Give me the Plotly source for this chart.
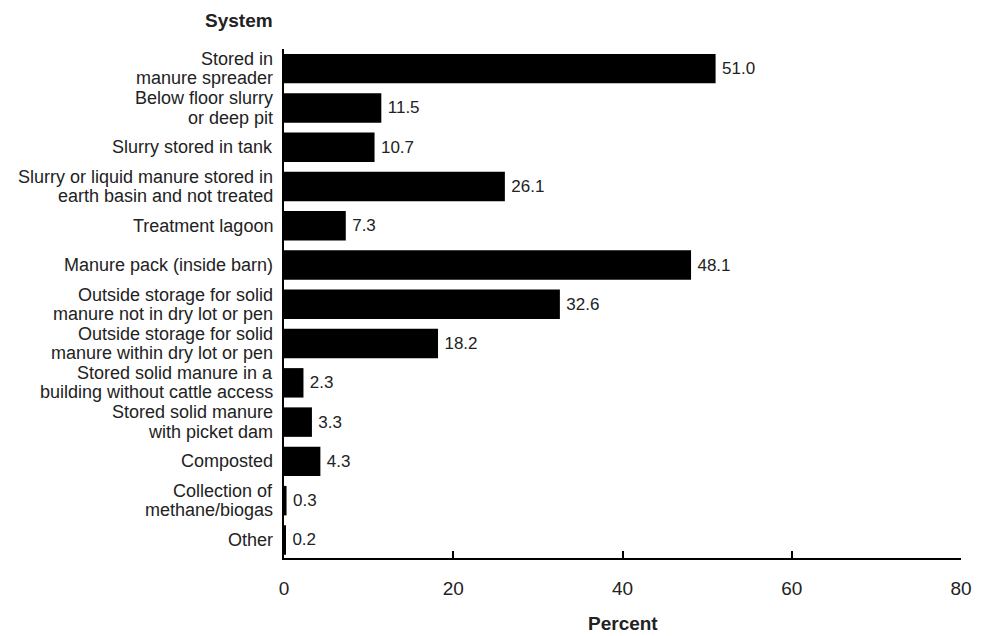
import plotly.graph_objects as go

categories = [
    "Stored in<br>manure spreader",
    "Below floor slurry<br>or deep pit",
    "Slurry stored in tank",
    "Slurry or liquid manure stored in<br>earth basin and not treated",
    "Treatment lagoon",
    "Manure pack (inside barn)",
    "Outside storage for solid<br>manure not in dry lot or pen",
    "Outside storage for solid<br>manure within dry lot or pen",
    "Stored solid manure in a<br>building without cattle access",
    "Stored solid manure<br>with picket dam",
    "Composted",
    "Collection of<br>methane/biogas",
    "Other",
]
percent = [51.0, 11.5, 10.7, 26.1, 7.3, 48.1, 32.6, 18.2, 2.3, 3.3, 4.3, 0.3, 0.2]
x_ticks = [0, 20, 40, 60, 80]

FONT = "Liberation Sans, Arial, Helvetica, sans-serif"
TXT = "#222222"
LABEL_SIZE = 18
LINE_GAP = 19.3

idx = list(range(len(categories)))

fig = go.Figure(go.Bar(
    x=percent,
    y=idx,
    orientation="h",
    marker=dict(color="black", line=dict(width=0)),
    texttemplate="\u2009%{x:.1f}",
    textposition="outside",
    textfont=dict(family=FONT, size=17, color=TXT),
    cliponaxis=False,
    hoverinfo="skip",
))

annotations = []
for i, cat in enumerate(categories):
    lines = cat.split("<br>")
    n = len(lines)
    for k, line in enumerate(lines):
        offset = ((n - 1) / 2 - k) * LINE_GAP
        annotations.append(dict(
            text=line, xref="paper", yref="y", x=0, y=i,
            xanchor="right", yanchor="middle", xshift=-9, yshift=offset,
            showarrow=False, font=dict(family=FONT, size=LABEL_SIZE, color=TXT),
        ))

annotations.append(dict(
    text="<b>System</b>", xref="paper", yref="paper", x=0, y=1,
    xanchor="right", yanchor="middle", xshift=-9, yshift=29,
    showarrow=False, font=dict(family=FONT, size=19, color=TXT),
))
annotations.append(dict(
    text="<b>Percent</b>", xref="paper", yref="paper", x=0.5, y=0,
    xanchor="center", yanchor="middle", yshift=-65,
    showarrow=False, font=dict(family=FONT, size=19, color=TXT),
))

# page body has an 8px default margin; size the figure to fit the window
fig.update_layout(
    width=979, height=628,
    margin=dict(l=276, r=26, t=41, b=78, autoexpand=False),
    paper_bgcolor="white", plot_bgcolor="white",
    bargap=0.25,
    showlegend=False,
    font=dict(family=FONT, color=TXT),
    xaxis=dict(
        range=[0, 80],
        tickvals=x_ticks,
        ticktext=[str(v) for v in x_ticks],
        ticks="inside", ticklen=7, tickwidth=2, tickcolor="black",
        showline=True, linewidth=2, linecolor="black",
        showgrid=False, zeroline=False, automargin=False,
        tickfont=dict(family=FONT, size=19, color=TXT),
        ticklabelstandoff=12,
    ),
    yaxis=dict(
        range=[12.46, -0.5],
        tickvals=idx,
        showticklabels=False,
        ticks="", showline=True, linewidth=2, linecolor="black",
        showgrid=False, zeroline=False, automargin=False,
    ),
    annotations=annotations,
)

fig.write_html("out.html")
